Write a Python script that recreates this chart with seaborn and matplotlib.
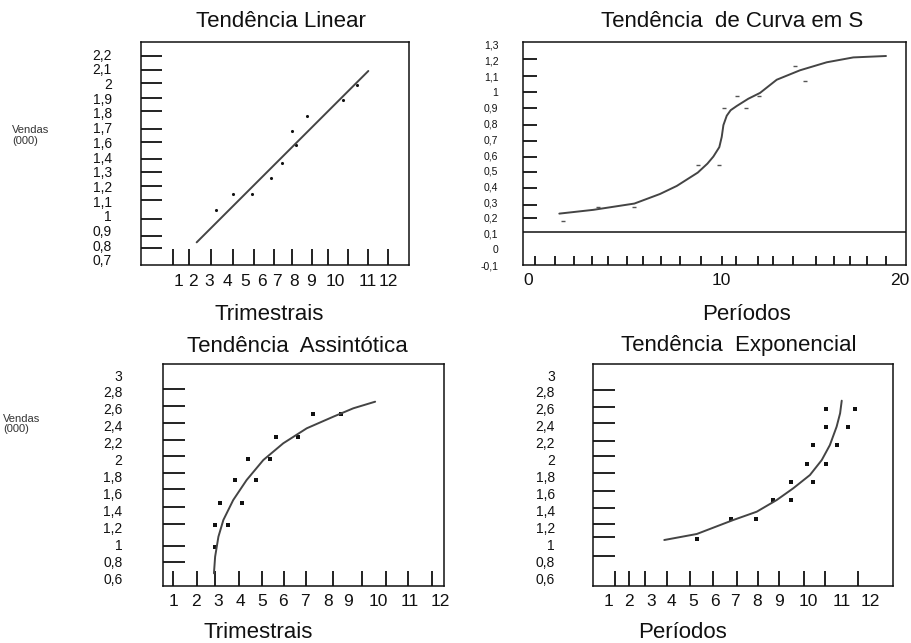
import matplotlib
matplotlib.use("Agg")
import numpy as np
import pandas as pd
import matplotlib.pyplot as plt
import seaborn as sns

W, H = 912, 643

# Tendência Linear (quarters vs sales, thousands)
lin_x = [3.20, 4.09, 5.06, 6.03, 6.59, 7.07, 7.29, 7.86, 9.68, 10.43]
lin_y = [1.04, 1.15, 1.15, 1.26, 1.36, 1.58, 1.48, 1.68, 1.79, 1.89]
lin_fit_x = [2.21, 10.99]
lin_fit_y = [0.82, 1.985]
lin_ylabels = ['0,7', '0,8', '0,9', '1', '1,1', '1,2', '1,3', '1,4',
               '1,6', '1,7', '1,8', '1,9', '2', '2,1', '2,2']

# Tendência de Curva em S
s_x = [1.72, 3.63, 5.57, 8.98, 10.14, 10.41, 11.08, 11.58, 12.29, 14.22, 14.75]
s_y = [0.181, 0.267, 0.267, 0.534, 0.534, 0.897, 0.978, 0.897, 0.978, 1.164, 1.073]
s_curve_x = [1.53, 3.36, 5.57, 6.95, 7.85, 8.98, 9.50, 9.82, 10.14, 10.27, 10.36,
             10.54, 10.75, 11.08, 11.70, 12.33, 13.23, 14.48, 15.92, 17.35, 19.11]
s_curve_y = [0.227, 0.251, 0.291, 0.352, 0.403, 0.488, 0.545, 0.590, 0.650, 0.715, 0.790,
             0.850, 0.885, 0.912, 0.958, 0.995, 1.079, 1.139, 1.190, 1.221, 1.230]
s_base = 0.11
s_ylabels = ['-0,1', '0', '0,1', '0,2', '0,3', '0,4', '0,5', '0,6', '0,7',
             '0,8', '0,9', '1', '1,1', '1,2', '1,3']
s_xlabels = ['0', '10', '20']

# Tendência Assintótica
as_x = [2.78, 2.78, 3.34, 2.99, 3.91, 3.63, 4.52, 4.19, 5.12, 5.37, 6.32, 6.93, 8.13]
as_y = [0.966, 1.229, 1.229, 1.492, 1.492, 1.760, 1.760, 2.008, 2.008, 2.272, 2.272, 2.540, 2.540]
as_curve_x = [2.73, 2.78, 2.92, 3.13, 3.55, 4.12, 4.83, 5.68, 6.68, 7.81, 8.66, 9.59]
as_curve_y = [0.659, 0.855, 1.091, 1.288, 1.524, 1.760, 1.996, 2.194, 2.371, 2.508, 2.607, 2.685]

# Tendência Exponencial
ex_x = [5.07, 6.54, 7.62, 8.34, 9.11, 9.11, 10.09, 9.83, 10.62, 10.09, 11.09,
        10.62, 11.59, 10.62, 11.88]
ex_y = [1.064, 1.300, 1.300, 1.521, 1.521, 1.740, 1.740, 1.949, 1.949, 2.170, 2.170,
        2.390, 2.390, 2.595, 2.595]
ex_curve_x = [3.67, 5.07, 6.64, 7.65, 8.51, 9.22, 9.94, 10.45, 10.80, 11.09, 11.24, 11.31]
ex_curve_y = [1.052, 1.123, 1.288, 1.386, 1.524, 1.662, 1.819, 1.996, 2.173, 2.390, 2.548, 2.697]

big_ylabels = ['0,6', '0,8', '1', '1,2', '1,4', '1,6', '1,8', '2',
               '2,2', '2,4', '2,6', '2,8', '3']
num_labels = [str(i) for i in range(1, 13)]

sns.set_theme(style="ticks")
plt.rcParams['font.family'] = ['Liberation Sans', 'DejaVu Sans']

fig = plt.figure(figsize=(W / 100, H / 100), dpi=100)
fig.patch.set_facecolor('white')


def add_panel(l, t, r, b):
    return fig.add_axes([l / W, 1 - b / H, (r - l) / W, (b - t) / H])


def style_panel(ax, xlim, ylim, xpos, xlabels, xmarks, ypos, ylabels, ymarks,
                xfs, yfs, xpad, ypad, xlen, ylen):
    # labels sit on major ticks (no mark), the drawn marks are minor ticks
    ax.xaxis.remove_overlapping_locs = False
    ax.yaxis.remove_overlapping_locs = False
    ax.set_xlim(xlim)
    ax.set_ylim(ylim)
    ax.set_xticks(xpos, labels=xlabels)
    ax.set_xticks(xmarks, minor=True)
    ax.set_yticks(ypos, labels=ylabels)
    ax.set_yticks(ymarks, minor=True)
    ax.tick_params(which='major', length=0, colors='#111')
    ax.tick_params(axis='x', which='major', labelsize=xfs, pad=xpad)
    ax.tick_params(axis='y', which='major', labelsize=yfs, pad=ypad)
    ax.tick_params(axis='x', which='minor', direction='in', length=xlen,
                   width=1.3, color='#111', bottom=True)
    ax.tick_params(axis='y', which='minor', direction='in', length=ylen,
                   width=1.3, color='#111', left=True)
    ax.set_xlabel('')
    ax.set_ylabel('')
    for sp in ax.spines.values():
        sp.set_visible(True)
        sp.set_color('#111')
        sp.set_linewidth(1.1)


def ftext(x, y, s, size, **kw):
    fig.text(x / W, 1 - y / H, s, fontsize=size, va='baseline', **kw)


# panel 1
ax1 = add_panel(141, 42, 409, 265)
sns.lineplot(x=lin_fit_x, y=lin_fit_y, ax=ax1, color='#444', lw=1.4,
             sort=False, estimator=None)
sns.scatterplot(x=lin_x, y=lin_y, ax=ax1, color='#111', marker='o', s=5, linewidth=0)
style_panel(ax1, (-0.637, 13.07), (0.666, 2.182),
            [1.26, 2.03, 2.85, 3.77, 4.69, 5.56, 6.33, 7.2, 8.08, 9.3, 10.95, 12.0], num_labels,
            [1, 1.82, 2.94, 4.07, 5.14, 6.17, 7.09, 8.11, 8.93, 9.95, 10.98, 12.0],
            np.arange(15) * 0.1 + 0.7, lin_ylabels,
            [2.09, 1.99, 1.90, 1.80, 1.71, 1.59, 1.50, 1.39, 1.30, 1.20, 1.11, 0.98, 0.86, 0.78],
            12.5, 10, 6.5, 21, 11.5, 15)

# panel 2
ax2 = add_panel(522.7, 41.7, 905.7, 265)
ax2.axhline(s_base, color='#111', lw=1.1)
sns.lineplot(x=s_curve_x, y=s_curve_y, ax=ax2, color='#444', lw=1.4,
             sort=False, estimator=None)
sns.scatterplot(x=s_x, y=s_y, ax=ax2, color='#555', marker='_', s=8, linewidth=1.0)
style_panel(ax2, (-0.44, 20.17), (-0.031, 1.321),
            [-0.13, 10.27, 19.87], s_xlabels,
            [0.23, 1.30, 2.34, 3.28, 4.14, 5.16, 6.02, 7.01, 8.03, 9.14, 10.30, 11.04,
             12.21, 13.05, 14.09, 15.33, 16.33, 17.18, 18.07, 19.11],
            np.arange(15) * 0.1 - 0.1, s_ylabels,
            [1.21, 1.10, 1.0, 0.9, 0.79, 0.69, 0.59, 0.49, 0.39, 0.28, 0.2],
            12.5, 7.5, 6, 17.5, 6.5, 10)

# panel 3
ax3 = add_panel(162.7, 364, 444, 586)
sns.lineplot(x=as_curve_x, y=as_curve_y, ax=ax3, color='#444', lw=1.4,
             sort=False, estimator=None)
sns.scatterplot(x=as_x, y=as_y, ax=ax3, color='#111', marker='s', s=5, linewidth=0)
style_panel(ax3, (0.549, 12.52), (0.509, 3.130),
            [1, 1.96, 2.91, 3.86, 4.80, 5.68, 6.59, 7.60, 8.45, 9.73, 11.05, 12.35], num_labels,
            [1, 2.02, 2.77, 3.80, 4.79, 5.71, 6.65, 7.79, 9.02, 10.04, 11.0, 12.0],
            np.arange(13) * 0.2 + 0.6, big_ylabels,
            [2.835, 2.634, 2.430, 2.233, 2.044, 1.839, 1.651, 1.445, 1.237, 0.985, 0.796],
            12.5, 10, 5.5, 29, 11, 16)

# panel 4
ax4 = add_panel(593.3, 364, 893.3, 586)
sns.lineplot(x=ex_curve_x, y=ex_curve_y, ax=ax4, color='#444', lw=1.4,
             sort=False, estimator=None)
sns.scatterplot(x=ex_x, y=ex_y, ax=ax4, color='#111', marker='s', s=5, linewidth=0)
style_panel(ax4, (0.615, 13.53), (0.509, 3.130),
            [1.26, 2.17, 3.09, 3.99, 4.92, 5.85, 6.72, 7.68, 8.62, 9.87, 11.31, 12.53], num_labels,
            [1.55, 2.17, 2.84, 3.78, 4.78, 5.78, 6.79, 7.69, 8.62, 9.69, 10.59, 12.0],
            np.arange(13) * 0.2 + 0.6, big_ylabels,
            [2.823, 2.619, 2.430, 2.221, 2.044, 1.839, 1.634, 1.426, 1.237, 1.084, 0.863],
            12.5, 10, 5.5, 27.5, 11, 15.5)

# titles and axis texts
ftext(281, 27, 'Tendência Linear', 16, ha='center', color='#111')
ftext(732, 27, 'Tendência  de Curva em S', 16, ha='center', color='#111')
ftext(297, 351.5, 'Tendência  Assintótica', 16, ha='center', color='#111')
ftext(739, 351.5, 'Tendência  Exponencial', 16, ha='center', color='#111')
ftext(269, 320, 'Trimestrais', 16, ha='center', color='#111')
ftext(746, 320, 'Períodos', 16, ha='center', color='#111')
ftext(258, 638.3, 'Trimestrais', 16, ha='center', color='#111')
ftext(682, 638.3, 'Períodos', 16, ha='center', color='#111')
ftext(12, 133.3, 'Vendas', 8, ha='left', color='#333')
ftext(12, 144, '(000)', 8, ha='left', color='#333')
ftext(3, 421.7, 'Vendas', 8, ha='left', color='#333')
ftext(3, 432.5, '(000)', 8, ha='left', color='#333')

fig.savefig('out.png', dpi=100)
